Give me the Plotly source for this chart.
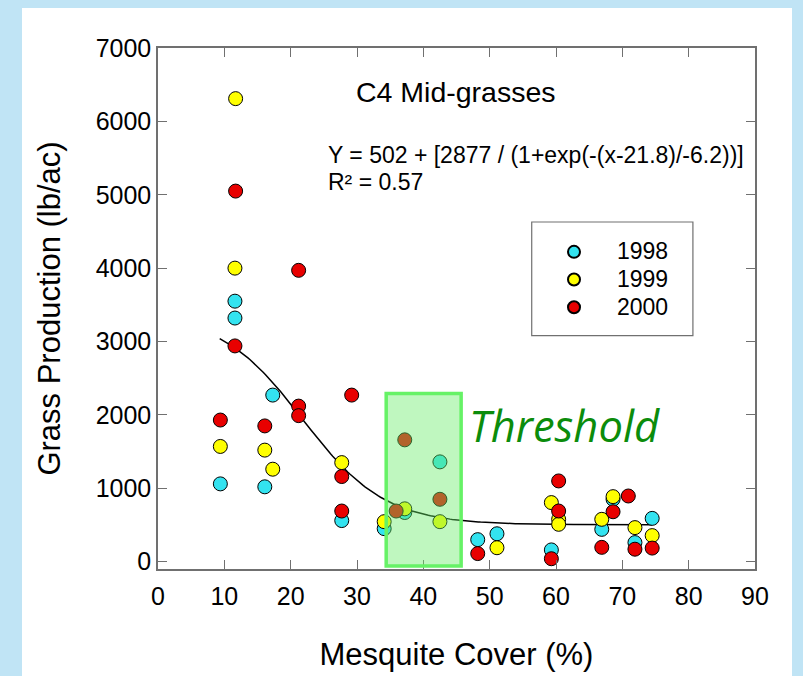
import numpy as np
import plotly.graph_objects as go

# ---- data ----
x_1998 = [9.4, 11.6, 11.6, 16.1, 17.3, 27.7, 34.1, 37.2, 42.5, 48.2, 51.1, 59.3, 66.9, 68.6, 71.9, 74.5]
y_1998 = [1060, 3550, 3320, 1020, 2270, 560, 450, 670, 1360, 300, 380, 160, 440, 850, 260, 590]

x_1999 = [9.4, 11.7, 11.6, 16.1, 17.3, 27.7, 34.1, 37.2, 42.5, 51.1, 59.3, 60.4, 60.4, 66.9, 68.6, 71.9, 74.5]
y_1999 = [1570, 6310, 4000, 1520, 1260, 1350, 545, 720, 545, 190, 805, 577, 509, 577, 886, 464, 355]

x_2000 = [9.4, 11.7, 11.6, 16.1, 21.2, 21.2, 21.2, 29.2, 27.7, 27.7, 35.9, 37.2, 42.5, 48.2,
          60.4, 60.4, 59.3, 66.9, 68.6, 70.9, 71.9, 74.5]
y_2000 = [1930, 5050, 2940, 1850, 3970, 2120, 1990, 2270, 1160, 690, 690, 1660, 850, 110,
          1100, 690, 40, 195, 680, 895, 170, 185]

# fitted sigmoid parameters printed on the chart
fit_a, fit_b, fit_x0, fit_w = 502, 2877, 21.8, -6.2
fit_xmin, fit_xmax = 9.3, 74.5

x_ticks = [0, 10, 20, 30, 40, 50, 60, 70, 80, 90]
y_ticks = [0, 1000, 2000, 3000, 4000, 5000, 6000, 7000]

threshold_x = [34.4, 45.7]
threshold_y = [-60, 2290]

FONT = "Liberation Sans, Arial, sans-serif"

fx = np.linspace(fit_xmin, fit_xmax, 200)
fy = fit_a + fit_b / (1 + np.exp(-(fx - fit_x0) / fit_w))

fig = go.Figure()
fig.add_trace(go.Scatter(x=fx, y=fy, mode="lines", line=dict(color="black", width=1.5),
                         showlegend=False, hoverinfo="skip"))

series = [("1998", x_1998, y_1998, "#33E3F0"),
          ("1999", x_1999, y_1999, "#FFFF00"),
          ("2000", x_2000, y_2000, "#E80000")]
for name, xs, ys, col in series:
    fig.add_trace(go.Scatter(x=xs, y=ys, mode="markers",
                             name="<span style='font-size:23px'>%s</span>" % name,
                             marker=dict(size=14, color=col, line=dict(color="black", width=1))))

axis_common = dict(showgrid=False, zeroline=False, showline=True, linecolor="#707070", linewidth=1.5,
                   ticks="inside", ticklen=9, tickwidth=1, tickcolor="#707070", mirror="allticks",
                   automargin=False,
                   tickfont=dict(family=FONT, size=25, color="black"))

fig.update_xaxes(range=[0, 90], tickvals=x_ticks, ticklabelstandoff=4, **axis_common,
                 title=dict(text="Mesquite Cover (%)", font=dict(family=FONT, size=31, color="black"), standoff=35))
fig.update_yaxes(range=[-100, 7000], tickvals=y_ticks, **axis_common,
                 title=dict(text="Grass Production (lb/ac)", font=dict(family=FONT, size=31, color="black"), standoff=26))

shapes = [
    # white panel
    dict(type="rect", xref="paper", yref="paper", x0=-0.2278, x1=1.062, y0=-0.22, y1=1.0768,
         fillcolor="white", line=dict(width=0), layer="below"),
    # legend box
    dict(type="rect", xref="paper", yref="paper", x0=0.626, x1=0.896, y0=0.448, y1=0.666,
         fillcolor="rgba(0,0,0,0)", line=dict(color="#707070", width=1.2), layer="above"),
    # threshold box
    dict(type="rect", xref="x", yref="y", x0=threshold_x[0], x1=threshold_x[1],
         y0=threshold_y[0], y1=threshold_y[1],
         fillcolor="rgba(102,235,102,0.42)", line=dict(color="#66F266", width=3.5), layer="above"),
]

annotations = [
    dict(text="C4 Mid-grasses", xref="paper", yref="paper", x=0.499, y=0.9155, showarrow=False,
         font=dict(family=FONT, size=28.5, color="black"), xanchor="center", yanchor="middle"),
    dict(text="Y = 502 + [2877 / (1+exp(-(x-21.8)/-6.2))]", xref="paper", yref="paper",
         x=(326 - 158) / 597, y=(569 - 155.5) / 521, showarrow=False,
         font=dict(family=FONT, size=23, color="black"), xanchor="left", yanchor="middle"),
    dict(text="R\u00b2 = 0.57", xref="paper", yref="paper",
         x=(326 - 158) / 597, y=(569 - 182) / 521, showarrow=False,
         font=dict(family=FONT, size=23, color="black"), xanchor="left", yanchor="middle"),
    dict(text="<i>Threshold</i>", xref="paper", yref="paper",
         x=(564 - 158) / 597, y=(569 - 426) / 521, showarrow=False,
         font=dict(family="Open Sans, Lato, sans-serif", size=43.5, color="#0B8C0B"),
         xanchor="center", yanchor="middle"),
]

fig.update_layout(
    width=803, height=676,
    margin=dict(l=158, r=48, t=48, b=107),
    paper_bgcolor="#C0E4F5", plot_bgcolor="white",
    shapes=shapes, annotations=annotations,
    legend=dict(x=(531 - 158) / 597, y=(569 - 233) / 521, xanchor="left", yanchor="top",
                bgcolor="rgba(0,0,0,0)", borderwidth=0, itemsizing="constant", itemwidth=76,
                font=dict(family=FONT, size=19, color="black"), tracegroupgap=0),
    showlegend=True,
)

fig.write_html("out.html", config={"displayModeBar": False},
               post_script="document.body.style.margin='0px';")
